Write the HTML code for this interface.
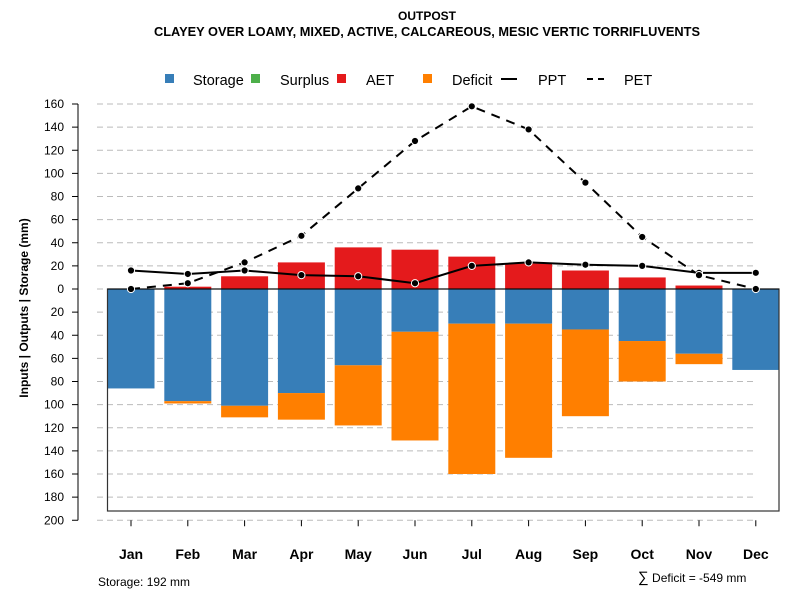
<!DOCTYPE html>
<html><head><meta charset="utf-8"><style>
body{margin:0;background:#fff;}
svg{display:block;font-family:"Liberation Sans",sans-serif;}
</style></head><body>
<svg id="chart" width="800" height="600" viewBox="0 0 800 600">
<text x="427" y="20" text-anchor="middle" font-size="12" font-weight="bold">OUTPOST</text>
<text x="427" y="36" text-anchor="middle" font-size="12.8" font-weight="bold">CLAYEY OVER LOAMY, MIXED, ACTIVE, CALCAREOUS, MESIC VERTIC TORRIFLUVENTS</text>
<g id="legend" font-size="14.5">
<rect x="165" y="74" width="9" height="9" fill="#377EB8"/>
<text x="193" y="85">Storage</text>
<rect x="251" y="74" width="9" height="9" fill="#4DAF4A"/>
<text x="280" y="85">Surplus</text>
<rect x="337" y="74" width="9" height="9" fill="#E41A1C"/>
<text x="366" y="85">AET</text>
<rect x="423" y="74" width="9" height="9" fill="#FF7F00"/>
<text x="452" y="85">Deficit</text>
<line x1="501" y1="79" x2="517" y2="79" stroke="#000" stroke-width="2"/>
<text x="538" y="85">PPT</text>
<line x1="587" y1="79" x2="609" y2="79" stroke="#000" stroke-width="2" stroke-dasharray="6,5"/>
<text x="624" y="85">PET</text>
</g>
<text transform="translate(28,308) rotate(-90)" text-anchor="middle" font-size="12" font-weight="bold">Inputs | Outputs | Storage    (mm)</text>
<g id="grid"></g><g id="bars"></g><g id="axes"></g><g id="lines"></g>
<text x="98" y="586" font-size="12">Storage: 192 mm</text>
<text x="638" y="582" font-size="12"><tspan font-size="15">∑</tspan> Deficit = -549 mm</text>
</svg>
<script>
const months=["Jan","Feb","Mar","Apr","May","Jun","Jul","Aug","Sep","Oct","Nov","Dec"];
const storage=[86,97,101,90,66,37,30,30,35,45,56,70];
const deficit=[0,2,10,23,52,94,130,116,75,35,9,0];
const surplus=[0,0,0,0,0,0,0,0,0,0,0,0];
const aet=[0,2,11,23,36,34,28,22,16,10,3,0];
const ppt=[16,13,16,12,11,5,20,23,21,20,14,14];
const pet=[0,5,23,46,87,128,158,138,92,45,12,0];
const yTicks=[160,140,120,100,80,60,40,20,0,-20,-40,-60,-80,-100,-120,-140,-160,-180,-200];
const NS="http://www.w3.org/2000/svg";
function y(v){return 289-v*1.15625;}
function x(i){return 131+i*56.8;}
function mk(tag,attrs,parent){const e=document.createElementNS(NS,tag);for(const k in attrs)e.setAttribute(k,attrs[k]);parent.appendChild(e);return e;}
const grid=document.getElementById('grid'),bars=document.getElementById('bars'),axes=document.getElementById('axes'),lines=document.getElementById('lines');
yTicks.forEach(t=>{
 const g=mk('line',{x1:97,x2:756,y1:y(t),y2:y(t),stroke:'#bbb','stroke-dasharray':'6,4','stroke-width':1},grid);
 
 
 const tk=mk('line',{x1:72,x2:78,y1:y(t),y2:y(t),stroke:'#000'},axes);
 
 
 const tx=mk('text',{x:64,y:y(t)+4,'text-anchor':'end','font-size':12},axes);
 tx.textContent=Math.abs(t);
 
 
});
const ax=mk('line',{x1:78,x2:78,y1:y(160),y2:y(-200),stroke:'#000'},axes);


const bw=47;
months.forEach((m,i)=>{
 const cx=x(i);
 const b1=mk('rect',{x:cx-bw/2,y:y(0),width:bw,height:y(-storage[i])-y(0),fill:'#377EB8'},bars);
 
 
 const b2=mk('rect',{x:cx-bw/2,y:y(-storage[i]),width:bw,height:y(-storage[i]-deficit[i])-y(-storage[i]),fill:'#FF7F00'},bars);
 
 
 const b3=mk('rect',{x:cx-bw/2,y:y(aet[i]),width:bw,height:y(0)-y(aet[i]),fill:'#E41A1C'},bars);
 
 
 const b4=mk('rect',{x:cx-bw/2,y:y(aet[i]+surplus[i]),width:bw,height:y(aet[i])-y(aet[i]+surplus[i]),fill:'#4DAF4A'},bars);
 
 
 const tk=mk('line',{x1:cx,x2:cx,y1:y(-200)+0,y2:y(-200)+6,stroke:'#000'},axes);
 
 
 const tx=mk('text',{x:cx,y:559,'text-anchor':'middle','font-size':14,'font-weight':'bold'},axes);
 tx.textContent=m;
 
 
});
const box=mk('rect',{x:107.5,y:y(0),width:671.5,height:y(-192)-y(0),fill:'none',stroke:'#333','stroke-width':1.2},bars);


const zl=mk('line',{x1:107.5,x2:779,y1:y(0),y2:y(0),stroke:'#000'},bars);


function series(vals,dash,name){
 const p=mk('polyline',{points:vals.map((v,i)=>x(i)+','+y(v)).join(' '),fill:'none',stroke:'#000','stroke-width':2,'stroke-dasharray':dash},lines);
 
 
 vals.forEach((v,i)=>{
  const c=mk('circle',{cx:x(i),cy:y(v),r:3.6,fill:'#000',stroke:'#fff','stroke-width':1},lines);
  
  
 });
}
series(ppt,'none','ppt');
series(pet,'9,7','pet');
</script>
</body></html>
